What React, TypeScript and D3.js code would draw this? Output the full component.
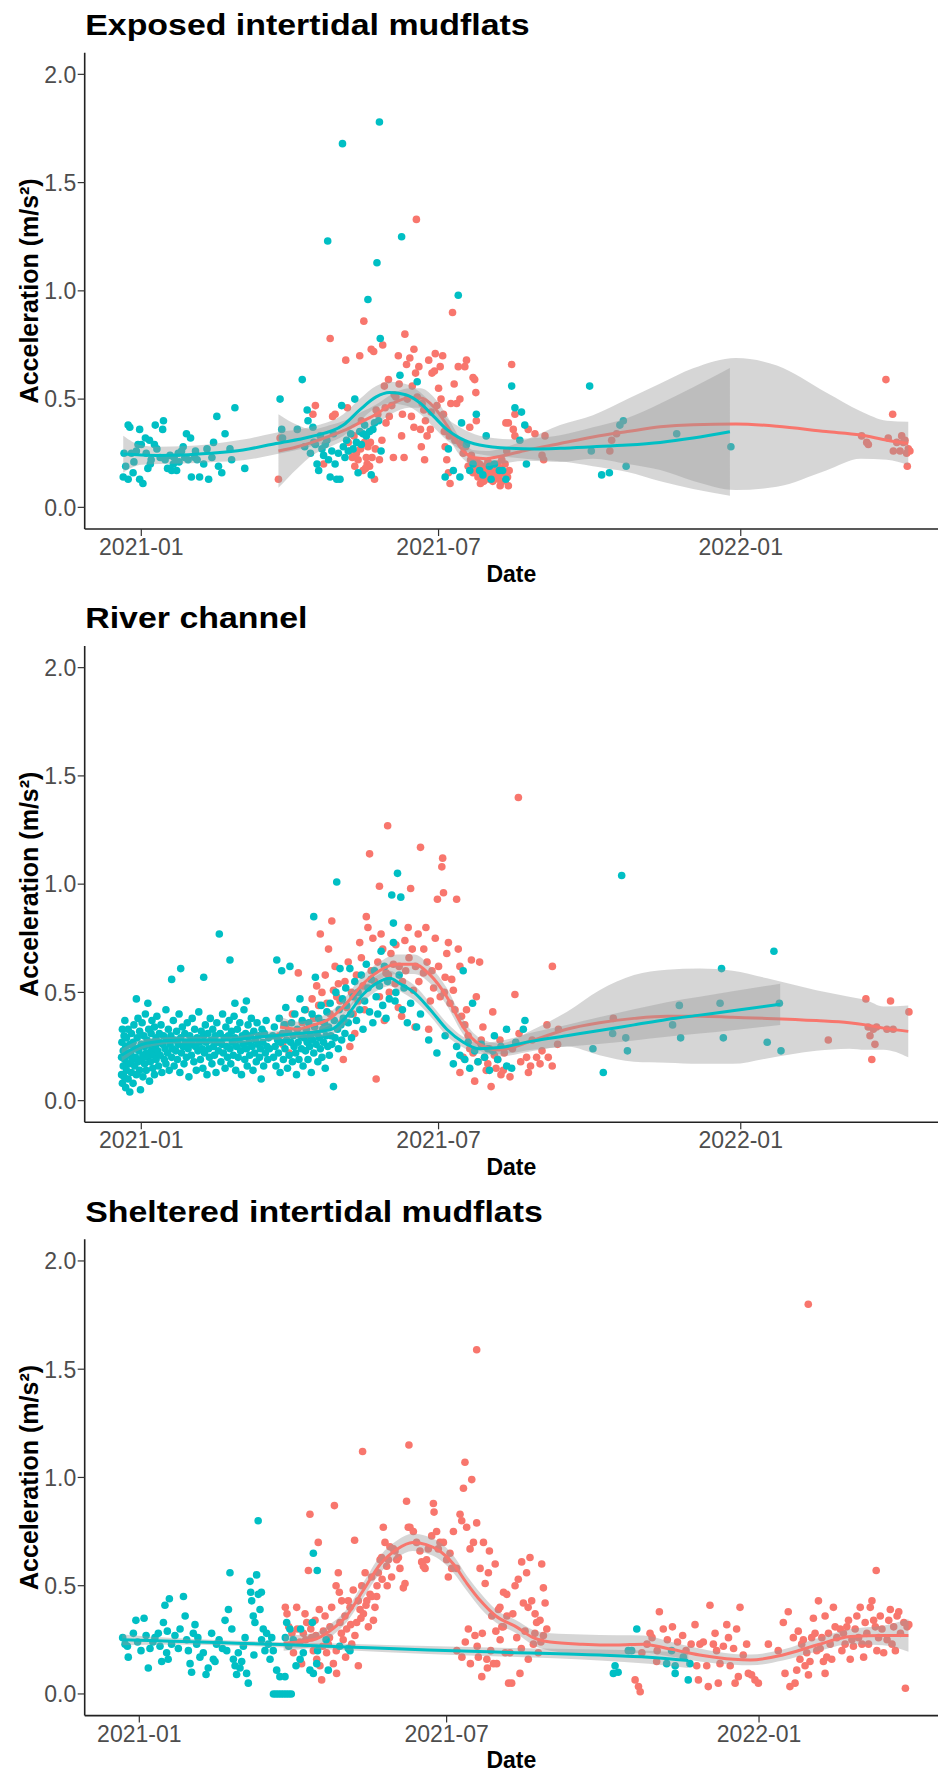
import React from "react";
import * as d3 from "d3";

type Pt = [number, number];
type Fit = [number, number, number];

// Day 0 = 2021-01-01; every point is [days since origin, acceleration in m/s²]
const ORIGIN = new Date(2021, 0, 1);
const atDay = (d: number) => new Date(ORIGIN.getTime() + d * 86400000);

// ---------- Exposed intertidal mudflats ----------
const exposedTeal: Pt[] = [
  [-11,0.14],[-9.5,0.19],[-10.5,0.25],[-8,0.38],[-7,0.37],[-8,0.13],[-6,0.25],[-4.5,0.21],[-3,0.26],[-1,0.36],
  [-1,0.13],[1,0.11],[0,0.29],[2.5,0.32],[4,0.18],[5,0.31],[5.5,0.2],[8,0.29],[8.5,0.38],[9.5,0.27],
  [11.5,0.23],[13.5,0.4],[13,0.36],[14.5,0.22],[16,0.18],[17.5,0.24],[18.5,0.17],[19.5,0.2],[21.5,0.17],[22.5,0.25],
  [24.5,0.26],[25.5,0.28],[26.5,0.23],[27.5,0.34],[30,0.32],[28.5,0.22],[30.5,0.14],[32.5,0.23],[34,0.22],[35.5,0.14],
  [38,0.2],[40,0.27],[41,0.13],[43,0.23],[44,0.3],[46,0.42],[47,0.19],[49,0.16],[51,0.34],[54,0.27],
  [55,0.22],[57,0.46],[63,0.18],[-2,0.29],[3,0.25],[-5,0.16],[6,0.22],[20,0.23],[23,0.21],[33,0.26],
  [84.5,0.5],[85.5,0.36],[86,0.32],[98,0.59],[101,0.45],[101.5,0.4],[99.5,0.28],[103,0.25],[104.5,0.37],[106,0.29],
  [107,0.2],[108,0.17],[110,0.27],[111,0.24],[113,0.31],[113.5,1.23],[115,0.14],[116,0.26],[117,0.34],[118,0.2],
  [119,0.13],[120,0.25],[121,0.13],[122,0.47],[122.5,1.68],[123,0.28],[125,0.31],[127.5,0.34],[129,0.27],[130,0.5],
  [132,0.16],[133,0.35],[135,0.34],[136,0.38],[138,0.96],[139,0.35],[141,0.36],[143.5,1.13],[144.5,0.4],[145,1.78],
  [145.5,0.78],[146,0.26],[157.5,0.61],[158.5,1.25],[168,0.58],[185,0.14],[187,0.27],[190,0.17],[193,0.98],[194,0.14],
  [195,0.39],[200,0.17],[204,0.43],[206,0.17],[210,0.33],[213,0.13],[218,0.17],[220,0.17],[222,0.13],[225.5,0.56],
  [227.5,0.46],[231.5,0.44],[233.5,0.38],[234.5,0.2],[230.5,0.31],[95,0.36],[105,0.3],[109,0.33],[112,0.29],[114,0.22],
  [124,0.23],[126,0.26],[131,0.3],[134,0.29],[137,0.33],[140,0.15],[142,0.39],[202,0.2],[208,0.15],[212,0.19],
  [215,0.2],[198,0.29],[273,0.56],[280.3,0.15],[285,0.16],[291.4,0.38],[293.5,0.4],[295.2,0.19],[326,0.34],[359,0.28],
  [274,0.26],
];

const exposedRed: Pt[] = [
  [83.5,0.13],[84.5,0.32],[106,0.47],[104.5,0.43],[111,0.2],[115,0.78],[116.5,0.42],[118,0.43],[124.5,0.68],[125.5,0.46],
  [127,0.26],[128.5,0.23],[130,0.19],[131,0.25],[132,0.22],[133,0.7],[134,0.4],[135,0.17],[135.5,0.86],[136,0.3],
  [137,0.23],[137.5,0.2],[138,0.28],[139,0.19],[140,0.73],[140.5,0.23],[141.5,0.72],[142,0.13],[143,0.45],[144,0.43],
  [147,0.75],[148,0.56],[148.5,0.46],[150.5,0.59],[152.5,0.47],[153.5,0.23],[155,0.51],[156.5,0.7],[158.5,0.33],[160,0.23],
  [160.5,0.8],[161.5,0.66],[163.5,0.69],[164.5,0.42],[166,0.37],[166,0.73],[167.5,1.33],[168,0.51],[169,0.65],[170,0.36],
  [170.5,0.28],[172,0.45],[172.5,0.22],[174,0.33],[175,0.68],[176,0.36],[177,0.62],[178.5,0.63],[179,0.71],[181,0.55],
  [182,0.65],[183.5,0.7],[184,0.43],[185,0.28],[186,0.22],[187,0.16],[188,0.11],[188.5,0.48],[189.5,0.9],[190.5,0.57],
  [191,0.31],[192,0.48],[193,0.65],[194,0.5],[196,0.25],[197,0.65],[198,0.68],[199,0.19],[200,0.37],[202,0.16],
  [203,0.59],[204,0.4],[205,0.14],[206.5,0.11],[208,0.16],[209,0.19],[210,0.14],[212,0.13],[214.5,0.16],[216.5,0.19],
  [217.5,0.13],[218.5,0.1],[222,0.39],[222.5,0.26],[223.5,0.1],[225.5,0.66],[226.5,0.36],[227.5,0.43],
  [203.5,0.18],[204.5,0.21],[205.5,0.17],[206,0.2],[207,0.14],[207.5,0.18],[208.5,0.12],[209.5,0.15],[210.5,0.18],[211,0.21],
  [211.5,0.16],[212.5,0.2],[213,0.15],[213.5,0.17],[214,0.12],[215,0.18],[215.5,0.14],[216,0.16],[217,0.2],[218,0.15],
  [219,0.18],[220,0.12],[221,0.16],[221.5,0.2],[219.5,0.22],[223,0.14],[224,0.17],[200.5,0.22],[201,0.24],[197.5,0.28],
  [195,0.3],[126,0.3],[129.5,0.33],[133.5,0.27],[136.5,0.18],[139.5,0.3],[142.5,0.27],[145,0.22],[146.5,0.31],[149,0.39],
  [151,0.42],[154,0.52],[157,0.57],[159,0.43],[162,0.5],[165,0.56],[167,0.62],[171,0.48],[173,0.4],[176.5,0.44],
  [180,0.47],[182.5,0.5],[184.5,0.35],[187.5,0.33],[202,0.6],[203.7,0.53],[223.5,0.39],[227.5,0.33],[235.6,0.36],[239.7,0.34],
  [245,0.22],[245.8,0.33],[244,0.24],[285.3,0.26],[286.4,0.31],[289.4,0.34],[438.6,0.33],[441.7,0.3],[442.7,0.29],[453.4,0.59],
  [457.5,0.43],[454.8,0.32],[457.9,0.26],[460,0.3],[462,0.26],[463,0.33],[464,0.3],[466,0.25],[467,0.27],[468,0.26],
  [466.4,0.19],[465,0.31],
];

// Smoothed trends: [days, fitted value, half-width of the confidence band]
const exposedTealFit: Fit[] = [
  [-11,0.246,0.085],[0,0.242,0.045],[11,0.24,0.04],[25,0.242,0.04],[42,0.25,0.042],[62,0.265,0.048],[82,0.295,0.05],
  [103,0.326,0.045],[123,0.38,0.05],[133,0.45,0.05],[143,0.51,0.05],[151,0.53,0.05],[161,0.52,0.05],[170,0.48,0.05],
  [178,0.42,0.05],[186,0.36,0.05],[194,0.32,0.05],[206,0.288,0.043],[224.5,0.273,0.042],[240,0.27,0.05],[255,0.273,0.06],
  [275,0.28,0.09],[296,0.288,0.125],[316,0.3,0.18],[336,0.32,0.235],[358.4,0.349,0.295],
];
const exposedRedFit: Fit[] = [
  [83.5,0.26,0.17],[95,0.28,0.1],[104,0.3,0.06],[115,0.33,0.05],[125,0.36,0.045],[134,0.395,0.045],[143,0.43,0.045],
  [153,0.48,0.045],[163,0.505,0.045],[170,0.505,0.045],[178,0.465,0.045],[186,0.38,0.045],[194,0.28,0.04],[202,0.23,0.035],
  [210,0.225,0.035],[218,0.235,0.035],[235,0.265,0.05],[255,0.295,0.085],[275,0.325,0.1],[296,0.35,0.15],[316,0.372,0.2],
  [336,0.382,0.26],[362,0.385,0.305],[387,0.375,0.28],[417,0.35,0.18],[438,0.334,0.11],[454,0.31,0.09],[467,0.295,0.1],
];

// ---------- River channel ----------
const riverTeal: Pt[] = [
  [-12,0.12],[-12,0.2],[-11.8,0.27],[-11.5,0.08],[-11.5,0.33],[-11,0.16],[-11,0.23],[-10.5,0.3],[-10.5,0.11],[-10,0.19],
  [-10,0.37],[-9.5,0.25],[-9.5,0.06],[-9,0.14],[-9,0.29],[-8.5,0.21],[-8,0.33],[-8,0.1],[-7.5,0.17],[-7,0.26],
  [-7,0.04],[-6.5,0.22],[-6,0.31],[-6,0.13],[-5.5,0.19],[-5,0.27],[-5,0.08],[-4.5,0.35],[-4,0.16],[-4,0.24],
  [-3.5,0.2],[-3,0.47],[-3,0.12],[-2.5,0.29],[-2,0.18],[-2,0.38],[-1.5,0.23],[-1,0.14],[-1,0.32],[-0.5,0.05],
  [0,0.26],[0,0.19],[0.5,0.36],[1,0.21],[1,0.11],[1.5,0.3],[2,0.17],[2,0.25],[2.5,0.4],[3,0.22],
  [3,0.14],[3.5,0.28],[4,0.45],[4,0.2],[4.5,0.33],[5,0.09],[5,0.26],[5.5,0.18],[6,0.31],[6,0.23],
  [6.5,0.37],[7,0.15],[7,0.27],[7.5,0.21],[8,0.34],[8,0.12],[8.5,0.25],[9,0.29],[9,0.19],[9.5,0.39],
  [10,0.23],[10.5,0.16],[11,0.31],[11,0.27],[11.5,0.21],[12,0.35],[12.5,0.13],[13,0.26],[13.5,0.3],[14,0.19],
  [14.5,0.24],[15,0.42],[15,0.17],[15.5,0.28],[16,0.22],[16.5,0.33],[17,0.14],[17.5,0.26],[18,0.3],[18.5,0.56],
  [18.5,0.2],[19,0.24],[19.5,0.37],[20,0.16],[20.5,0.28],[21,0.23],[21.5,0.32],[22,0.19],[22.5,0.26],[23,0.4],
  [23.5,0.13],[24,0.61],[24,0.29],[24.5,0.22],[25,0.34],[25.5,0.25],[26,0.17],[26.5,0.31],[27,0.27],[27.5,0.2],
  [28,0.36],[28.5,0.24],[29,0.11],[29.5,0.3],[30,0.26],[30.5,0.21],[31,0.38],[31.5,0.28],[32,0.18],[32.5,0.33],
  [33,0.25],[33.5,0.14],[34,0.29],[34.5,0.23],[35,0.41],[35.5,0.27],[36,0.19],[36.5,0.32],[37,0.24],[37.5,0.15],
  [38,0.57],[38,0.3],[38.5,0.22],[39,0.35],[39.5,0.27],[40,0.12],[40.5,0.31],[41,0.24],[41.5,0.2],[42,0.38],
  [42.5,0.28],[43,0.17],[43.5,0.33],[44,0.25],[44.5,0.21],[45,0.3],[45.5,0.13],[46,0.36],[46.5,0.27],[47,0.23],
  [47.5,0.77],[48,0.31],[48.5,0.18],[49,0.26],[49.5,0.4],[50,0.22],[50.5,0.29],[51,0.15],[51.5,0.34],[52,0.25],
  [52.5,0.2],[53,0.3],[53.5,0.37],[54,0.65],[54,0.24],[54.5,0.17],[55,0.32],[55.5,0.27],[56,0.21],[56.5,0.39],
  [57,0.45],[57,0.29],[57.5,0.14],[58,0.25],[58.5,0.33],[59,0.2],[59.5,0.28],[60,0.36],[60.5,0.23],[61,0.12],
  [61.5,0.3],[62,0.26],[62.5,0.42],[63,0.19],[63.5,0.31],[64,0.46],[64,0.24],[64.5,0.16],[65,0.35],[65.5,0.27],
  [66,0.21],[66.5,0.3],[67,0.38],[67.5,0.25],[68,0.14],[68.5,0.32],[69,0.22],[69.5,0.28],[70,0.18],[70.5,0.36],
  [71,0.26],[71.5,0.3],[72,0.2],[72.5,0.24],[73,0.1],[73.5,0.33],[74,0.27],[74.5,0.16],[75,0.31],[75.5,0.22],
  [76,0.37],[76.5,0.25],[77,0.19],[77.5,0.29],[78,0.24],
  [80,0.3],[80.5,0.2],[81,0.34],[81.5,0.25],[82,0.16],[82.5,0.65],[83,0.28],[83.5,0.22],[84,0.38],[84.5,0.13],
  [85,0.27],[85.5,0.6],[86,0.31],[86.5,0.19],[87,0.35],[87.5,0.24],[88,0.43],[88.5,0.28],[89,0.15],[89.5,0.32],
  [90,0.21],[90.5,0.62],[91,0.27],[91.5,0.36],[92,0.18],[92.5,0.3],[93,0.25],[93.5,0.4],[94,0.22],[94.5,0.12],
  [95,0.33],[95.5,0.27],[96,0.19],[96.6,0.47],[97,0.3],[97.5,0.24],[98,0.37],[98.5,0.16],[99,0.29],[99.5,0.42],
  [100,0.23],[100.5,0.33],[101,0.27],[101.5,0.19],[102,0.36],[102.5,0.25],[103,0.3],[103.5,0.13],[104,0.4],[104.5,0.28],
  [105,0.85],[105,0.22],[105.5,0.34],[106,0.57],[106.5,0.26],[107,0.31],[107.5,0.18],[108,0.38],[108.5,0.29],[109,0.24],
  [109.5,0.44],[110,0.2],[110.5,0.33],[111,0.27],[111.5,0.36],[112,0.15],[112.5,0.3],[113,0.41],[113.5,0.25],[114,0.34],
  [114.5,0.21],[115,0.45],[115.5,0.3],[116,0.26],[117,0.065],[117.5,0.37],[118,0.29],[118.5,0.5],[119,1.01],[119.5,0.33],
  [120,0.24],[120.5,0.42],[121,0.61],[121.5,0.35],[122,0.28],[122.5,0.47],[123,0.38],[124,0.31],[124.5,0.52],[125,0.44],
  [126,0.36],[127,0.61],[127.5,0.4],[128,0.29],[129,0.48],[130,0.55],[131,0.37],[132,0.5],[133,0.42],[134,0.58],
  [135,0.33],[136,0.46],[137,0.63],[138,0.52],[139,0.41],[140,0.56],[141,0.36],[142,0.6],[143,0.48],[144,0.4],
  [145,0.53],[146,0.69],[147,0.44],[148,0.62],[149,0.38],[150,0.55],[151,0.47],[152.5,0.95],[153.5,0.73],[153.5,0.82],
  [154.5,0.46],[155,0.5],[156,1.05],[157,0.58],[158,0.94],[159,0.42],[160,0.52],[162,0.36],[164,0.45],[167.6,0.34],
  [170,0.4],[175,0.28],[180,0.22],[185,0.3],[190,0.17],[192,0.25],[194,0.21],[196,0.6],[197,0.19],[199,0.27],
  [200,0.15],[201.7,0.45],[203,0.23],[205,0.18],[207,0.26],[209,0.2],[211,0.24],[212,0.14],[214,0.23],[215,0.3],
  [217,0.19],[219,0.25],[222.4,0.33],[222.5,0.16],[225.5,0.15],[228,0.27],[232.6,0.33],[233.6,0.37],
  [275,0.24],[281.3,0.13],[287,0.31],[292.5,1.04],[295,0.29],[296,0.23],[323.5,0.35],[327.6,0.44],[328.4,0.29],[352.4,0.45],
  [353.3,0.61],[354.4,0.29],[381.1,0.27],[385.2,0.69],[388.5,0.45],[389.5,0.23],
];

const riverRed: Pt[] = [
  [84,0.3],[86,0.26],[88,0.35],[90,0.22],[92,0.4],
  [95.6,0.59],[106.8,0.53],[109,0.77],[114,0.7],[116,0.83],[117,0.51],[119,0.48],[120,0.54],[123,0.19],[127,0.25],
  [130,0.31],[133,0.73],[137,0.85],[138,0.8],[139,1.14],[141,0.75],[143,0.1],[145,0.48],[145,0.99],[146,0.77],
  [148,0.37],[149,0.59],[150,1.27],[151,0.5],[153.5,0.63],[156.5,0.43],[158.5,0.39],[160.5,0.74],[162.5,0.8],[164,0.98],
  [165.7,0.51],[166.7,0.34],[168.6,0.77],[170,1.17],[171.8,0.59],[173.3,0.8],[175,0.33],[176,0.46],[179,0.75],[180.3,0.93],
  [182,0.48],[183,1.08],[183.5,1.12],[184,0.96],[185,0.57],[186,0.68],[187,0.73],[188,0.45],[190,0.51],[192,0.93],
  [193,0.7],[194,0.62],[195,0.39],[196,0.2],[198,0.42],[201,0.65],[204,0.48],[206,0.64],[208,0.34],[210,0.14],
  [213,0.065],[214,0.41],[203,0.09],[194,0.13],
  [98,0.36],[100,0.42],[102,0.3],[104,0.47],[105,0.38],[108,0.44],[110,0.5],[111,0.36],[112,0.58],[113,0.45],
  [115,0.4],[118,0.62],[121,0.46],[122,0.36],[124,0.55],[125,0.43],[126,0.64],[128,0.5],[129,0.4],[131,0.58],
  [132,0.46],[134,0.66],[135,0.53],[136,0.42],[140,0.6],[142,0.55],[144,0.64],[147,0.7],[150.5,0.58],[152,0.68],
  [154.5,0.54],[155,0.72],[157,0.62],[159,0.55],[161,0.6],[163,0.66],[165,0.7],[167,0.62],[169,0.55],[172,0.7],
  [174,0.64],[177,0.6],[178,0.52],[181,0.62],[184.5,0.5],[189,0.56],[191,0.42],[197,0.35],[199,0.3],[200,0.24],
  [202,0.22],[205,0.18],[207,0.28],[209,0.2],[211,0.17],[212,0.24],[215,0.21],[216,0.15],[217,0.19],[219,0.12],
  [221,0.22],[229.6,1.4],[250.3,0.62],[227.5,0.49],[218.4,0.28],[220.4,0.14],[224.5,0.11],[235.7,0.13],[234.6,0.2],[240.7,0.2],
  [242.8,0.17],[247.8,0.2],[250.2,0.16],[247,0.35],[254,0.33],[253.5,0.26],[226,0.24],[231,0.18],[238,0.28],[244,0.23],
  [230,0.31],[237,0.16],[287.4,0.38],[418.3,0.28],[441.2,0.47],[456.2,0.46],[467.4,0.41],[444.8,0.19],[443.7,0.3],[446.7,0.26],
  [447.7,0.34],[454,0.33],[457.8,0.33],[442.6,0.34],[445.7,0.33],
];

const riverTealFit: Fit[] = [
  [-12,0.21,0.03],[3,0.265,0.02],[24,0.28,0.015],[54,0.28,0.015],[74,0.296,0.02],[95,0.31,0.022],[115,0.327,0.025],
  [125,0.39,0.03],[135,0.49,0.035],[145,0.55,0.035],[151.5,0.565,0.035],[157.5,0.54,0.035],[166,0.5,0.035],[176,0.42,0.03],
  [186,0.33,0.03],[196,0.27,0.025],[206,0.24,0.025],[218,0.245,0.03],[238,0.275,0.04],[259,0.3,0.05],[280,0.325,0.062],
  [300,0.35,0.072],[320,0.375,0.08],[340,0.395,0.085],[360,0.415,0.09],[389,0.445,0.095],
];
const riverRedFit: Fit[] = [
  [84.5,0.34,0.05],[95,0.33,0.035],[105,0.35,0.03],[115,0.38,0.03],[125,0.45,0.035],[135,0.54,0.04],[145,0.6,0.04],
  [155.5,0.63,0.045],[166,0.63,0.045],[176,0.58,0.04],[186,0.48,0.04],[196,0.34,0.035],[206,0.26,0.03],[218,0.234,0.03],
  [239,0.28,0.05],[259,0.33,0.08],[279,0.36,0.15],[300,0.38,0.2],[320,0.39,0.215],[340,0.39,0.22],[360,0.385,0.215],
  [381,0.38,0.185],[411,0.37,0.14],[431,0.36,0.12],[441,0.35,0.115],[452,0.335,0.1],[467,0.32,0.12],
];

// ---------- Sheltered intertidal mudflats ----------
const shelteredTeal: Pt[] = [
  [-9.8,0.26],[-8.4,0.23],[-6.5,0.17],[-3.5,0.28],[-2,0.34],[2.8,0.35],[5.3,0.12],[6.3,0.21],[9.2,0.26],[11.2,0.28],
  [12.2,0.22],[13.2,0.15],[14.2,0.33],[15.1,0.41],[16.1,0.19],[16.5,0.29],[17,0.16],[17.7,0.44],[19,0.23],[24,0.3],
  [26,0.45],[27,0.36],[27.9,0.25],[28.9,0.2],[29.9,0.14],[30.8,0.1],[31.8,0.28],[32.8,0.32],[33.8,0.23],[35.7,0.17],
  [37.7,0.19],[39.3,0.09],[40.6,0.12],[42.6,0.28],[43.6,0.16],[44.6,0.15],[45.5,0.23],[50.5,0.34],[51.5,0.2],[52.5,0.39],
  [53.4,0.56],[54.5,0.3],[55.4,0.16],[56.4,0.13],[57.3,0.09],[58.3,0.19],[59.3,0.12],[60.3,0.15],[61.3,0.22],[62.3,0.26],
  [63.2,0.095],[64.2,0.05],[65.2,0.52],[65.6,0.47],[66.2,0.43],[67.1,0.36],[67.5,0.18],[68.1,0.33],[69.1,0.55],[70.1,0.46],
  [71.1,0.39],[70,0.8],[71.9,0.47],[72,0.25],[73,0.3],[74,0.2],[75,0.28],[76,0.23],[77,0.16],[78,0.26],
  [78.9,0.2],[80.9,0.11],[82.8,0.08],[85.8,0.08],[86.8,0.33],[88.7,0.3],[90.7,0.25],[92.3,0.13],[94.7,0.16],[96.6,0.19],
  [100.5,0.11],[102.5,0.095],[102.5,0.65],[104.8,0.57],[101.9,0.33],[104.5,0.14],[111.3,0.11],[123.1,0.21],[124.1,0.2],
  [-7,0.22],[-1,0.24],[1,0.2],[4,0.27],[8,0.24],[21,0.27],[23,0.21],[34.5,0.26],[47,0.25],[49,0.21],
  [86,0.26],[88,0.22],[95,0.3],[105,0.2],[110,0.25],[118,0.22],
  [79,0],[80.5,0],[82,0],[83.5,0],[85,0],[86.5,0],[88,0],[89.5,0],
  [293,0.3],[280.2,0.13],[279.2,0.095],[282,0.1],[288,0.2],[290,0.2],[310.6,0.14],[315.6,0.13],[315.6,0.095],[323.3,0.065],
  [324.3,0.14],[320.4,0.17],[313.5,0.2],
];

const shelteredRed: Pt[] = [
  [86,0.4],[87,0.37],[88,0.31],[89.9,0.28],[90.8,0.19],[92.7,0.4],[93,0.3],[94.6,0.24],[95.6,0.14],[96.6,0.28],
  [97.6,0.37],[98.6,0.33],[99.6,0.57],[100.5,0.83],[101.5,0.26],[102.5,0.2],[103.5,0.34],[104.5,0.16],[105.4,0.7],[106,0.39],
  [106.4,0.13],[107.4,0.065],[108.4,0.29],[109.4,0.36],[110.3,0.19],[111.3,0.23],[112.3,0.31],[113.3,0.4],[114.3,0.14],[114.9,0.87],
  [115.9,0.5],[116.2,0.095],[117.2,0.56],[117.8,0.47],[118.2,0.33],[119.2,0.43],[120.1,0.25],[121.1,0.36],[122.1,0.3],[123.1,0.43],
  [124.1,0.4],[125.1,0.23],[126,0.48],[126.8,0.71],[128,0.33],[129,0.13],[129,0.43],[130,0.39],[131,0.5],[131.5,1.12],
  [132,0.37],[133,0.56],[134,0.43],[134.9,0.31],[135.9,0.46],[136.9,0.54],[137.9,0.34],[138.8,0.4],[139.8,0.45],[140.8,0.56],
  [141.8,0.62],[142.7,0.63],[143.7,0.77],[144.7,0.7],[145.7,0.59],[146.7,0.62],[147.6,0.68],[148.6,0.54],[149.6,0.67],[150.6,0.66],
  [151.6,0.62],[152.6,0.63],[153.5,0.58],[155.5,0.49],[156.5,0.51],[157.4,0.89],[158.4,0.77],[158.8,1.15],[159.4,0.77],[161.4,0.75],
  [163.3,0.7],[165.3,0.66],[166.3,0.61],[167.3,0.59],[168.3,0.58],[169.2,0.62],[170.2,0.67],[172.2,0.73],[173.2,0.88],[173.6,0.84],
  [175.1,0.75],[176.1,0.67],[177.1,0.7],[179.1,0.7],[181,0.62],[182,0.54],[183,0.65],[184,0.58],[185,0.75],[186.9,0.58],
  [188.9,0.83],[189.9,0.8],[190.9,0.95],[191.8,1.07],[192.8,0.77],[193.8,0.3],[194.8,0.67],[195.8,0.99],[196.8,0.7],[197.7,0.27],
  [198.7,0.79],[199.7,0.17],[200.7,0.58],[201.7,0.08],[202.7,0.7],[203.7,0.51],[204.7,0.16],[205.6,0.56],[206.2,0.66],[207.6,0.36],
  [208.6,0.14],[209.6,0.6],[210.5,0.14],[211.5,0.39],[212.5,0.25],[213.5,0.31],[214.5,0.47],[215.5,0.19],[216.5,0.36],[217.5,0.05],
  [198.7,1.59],[98,0.25],[101,0.3],[104,0.27],[108,0.22],[112,0.26],[116,0.2],[119,0.28],[121.5,0.17],[124.5,0.32],
  [127,0.27],[130.5,0.35],[133.5,0.41],[137,0.45],[140,0.5],[143,0.53],[146,0.5],[187,0.2],[190,0.17],[192,0.24],
  [195,0.14],[199,0.22],[202,0.28],[205,0.12],[207,0.2],[210,0.29],[212.4,0.4],[214.4,0.31],[216.4,0.46],[218.3,0.19],
  [219.3,0.05],[221.3,0.5],[222.3,0.26],[223.2,0.53],[224.2,0.095],[225.2,0.61],[226.2,0.42],[227.2,0.29],[228.1,0.56],[229.1,0.16],
  [230.1,0.63],[231.1,0.43],[232.1,0.23],[233.1,0.37],[234,0.33],[235,0.19],[236,0.34],[237,0.6],[238,0.49],[239,0.42],
  [238,0.27],[229,0.4],[220,0.37],[225,0.21],[233,0.28],[236.5,0.24],[240,0.3],
  [306.3,0.38],[300.8,0.28],[299,0.23],[296,0.19],[292,0.065],[294,0.034],[295,0.01],[304.7,0.15],[308.6,0.3],[314,0.31],
  [317,0.24],[302,0.26],[305,0.2],[311,0.25],[320,0.27],[322,0.2],[325,0.23],
  [327.3,0.32],[328.3,0.13],[329.3,0.065],[330.2,0.23],[332.2,0.24],[334.2,0.13],[335.1,0.034],[336.1,0.41],[338.1,0.23],[339.1,0.28],
  [340,0.2],[341,0.05],[342,0.14],[344,0.22],[346,0.32],[347,0.26],[348,0.13],[350,0.21],[350.9,0.05],[351.8,0.3],
  [352.8,0.08],[353.8,0.4],[355.7,0.18],[357.7,0.23],[358.7,0.095],[360.6,0.088],[362.6,0.065],[364.6,0.05],[370.5,0.23],[376.3,0.2],
  [379.3,0.33],[380.3,0.095],[382.2,0.38],[383.2,0.034],[385.2,0.26],[386.2,0.05],[387.2,0.11],[388.1,0.29],[389.1,0.16],[390.1,0.23],
  [391.1,0.25],[392.1,0.13],[393.1,0.19],[394.1,0.088],[395,0.15],[396,0.26],[397,0.35],[398,0.28],[399,0.2],[400,0.43],
  [401,0.21],[402,0.26],[402.9,0.15],[403.9,0.095],[403.9,0.36],[404.9,0.17],[405.9,0.28],[406.9,0.23],[407.8,0.16],[408.8,0.4],
  [409.8,0.31],[410.8,0.26],[412.8,0.3],[413.8,0.2],[414.7,0.28],[415.7,0.23],[416.7,0.31],[417.7,0.34],[418.7,0.16],[419.7,0.25],
  [420.6,0.22],[421.6,0.3],[422.6,0.36],[423.6,0.26],[424.6,0.4],[425.6,0.23],[426.6,0.17],[427.5,0.33],[428.5,0.28],[429.5,0.23],
  [430.5,0.4],[431.5,0.43],[432.5,0.34],[433.5,0.31],[434,0.57],[434.4,0.2],[435.4,0.26],[436.4,0.36],[437.4,0.3],[438.4,0.19],
  [440.4,0.25],[441.4,0.34],[442.3,0.39],[443.3,0.23],[444.3,0.31],[445.3,0.2],[446.3,0.36],[447.3,0.38],[448.3,0.28],[450.3,0.33],
  [451.2,0.026],[452.2,0.31],[453.2,0.32],[394,1.8],
];

const shelteredTealFit: Fit[] = [
  [-10,0.25,0.025],[20,0.243,0.015],[50,0.236,0.012],[83,0.228,0.012],[122,0.217,0.015],[170,0.203,0.018],
  [218,0.192,0.02],[271,0.18,0.025],[300,0.17,0.03],[323.3,0.155,0.035],
];
const shelteredRedFit: Fit[] = [
  [85,0.234,0.035],[102.5,0.25,0.03],[112,0.29,0.03],[122,0.36,0.03],[132,0.48,0.035],[142,0.6,0.04],[152,0.67,0.04],
  [161,0.7,0.04],[169,0.69,0.04],[177,0.66,0.04],[185,0.6,0.04],[193,0.51,0.035],[201,0.43,0.035],[210,0.36,0.03],
  [222,0.31,0.03],[232,0.26,0.035],[242,0.24,0.04],[261,0.23,0.045],[281,0.226,0.045],[297,0.23,0.04],[311,0.21,0.035],
  [330,0.18,0.03],[350,0.16,0.025],[360,0.157,0.025],[379,0.18,0.025],[399,0.226,0.03],[419,0.265,0.035],[438,0.27,0.045],
  [453,0.27,0.075],
];

const xTickDates = [new Date(2021, 0, 1), new Date(2021, 6, 1), new Date(2022, 0, 1)];
const yTickValues = [0, 0.5, 1.0, 1.5, 2.0];

const panels = [
  { title: "Exposed intertidal mudflats", days: [-34.46, 485.1], red: exposedRed, teal: exposedTeal, redFit: exposedRedFit, tealFit: exposedTealFit },
  { title: "River channel", days: [-34.46, 485.1], red: riverRed, teal: riverTeal, redFit: riverRedFit, tealFit: riverTealFit },
  { title: "Sheltered intertidal mudflats", days: [-32.16, 470.4], red: shelteredRed, teal: shelteredTeal, redFit: shelteredRedFit, tealFit: shelteredTealFit },
];

// ---------- layout ----------
const W = 938;
const H = 1774;
const LEFT = 84.7;
const RIGHT = 938;
const TOP0 = 52.7;
const PANEL_H = 476.3;
const STEP = 593.3;
const TITLE_SX = 1.13; // title glyphs are drawn slightly wide
const RED = "#F8766D";
const TEAL = "#00BFC4";
const FONT = "'Liberation Sans', Arial, Helvetica, sans-serif";

function Panel({ p, index }: { p: any; index: number }) {
  const top = TOP0 + index * STEP;
  const bottom = top + PANEL_H;
  const x = d3.scaleTime().domain([atDay(p.days[0]), atDay(p.days[1])]).range([LEFT, RIGHT]);
  const y = d3.scaleLinear().domain([-0.1, 2.1]).range([bottom, top]);
  const fmt = d3.timeFormat("%Y-%m");

  const line = d3.line<Fit>().x((d) => x(atDay(d[0]))).y((d) => y(d[1])).curve(d3.curveMonotoneX);
  const band = d3
    .area<Fit>()
    .x((d) => x(atDay(d[0])))
    .y0((d) => y(d[1] - d[2]))
    .y1((d) => y(d[1] + d[2]))
    .curve(d3.curveMonotoneX);

  const clipId = `clip-${index}`;
  const cy = (top + bottom) / 2;

  return (
    <g>
      <defs>
        <clipPath id={clipId}>
          <rect x={LEFT} y={top} width={RIGHT - LEFT} height={PANEL_H} />
        </clipPath>
      </defs>

      <g transform={`translate(${LEFT + 0.5},${top - 17.7}) scale(${TITLE_SX},1)`}>
        <text fontFamily={FONT} fontWeight="bold" fontSize={30} fill="#000">{p.title}</text>
      </g>

      <g clipPath={`url(#${clipId})`}>
        {p.red.map((d: Pt, i: number) => (
          <circle key={`r${i}`} cx={x(atDay(d[0]))} cy={y(d[1])} r={3.8} fill={RED} />
        ))}
        {p.teal.map((d: Pt, i: number) => (
          <circle key={`t${i}`} cx={x(atDay(d[0]))} cy={y(d[1])} r={3.8} fill={TEAL} />
        ))}
        <path d={band(p.redFit) || ""} fill="#999999" fillOpacity={0.4} />
        <path d={line(p.redFit) || ""} fill="none" stroke={RED} strokeWidth={3} />
        <path d={band(p.tealFit) || ""} fill="#999999" fillOpacity={0.4} />
        <path d={line(p.tealFit) || ""} fill="none" stroke={TEAL} strokeWidth={3} />
      </g>

      <line x1={LEFT} x2={LEFT} y1={top} y2={bottom} stroke="#222" strokeWidth={1.6} />
      <line x1={LEFT} x2={RIGHT} y1={bottom} y2={bottom} stroke="#222" strokeWidth={1.6} />

      {yTickValues.map((v) => (
        <g key={`y${v}`}>
          <line x1={LEFT - 7} x2={LEFT} y1={y(v)} y2={y(v)} stroke="#333" strokeWidth={1.2} />
          <text
            x={LEFT - 8.5}
            y={y(v) + 8.3}
            textAnchor="end"
            fontFamily={FONT}
            fontSize={23}
            fill="#4D4D4D"
          >
            {v.toFixed(1)}
          </text>
        </g>
      ))}

      {xTickDates.map((t, i) => (
        <g key={`x${i}`}>
          <line x1={x(t)} x2={x(t)} y1={bottom} y2={bottom + 7} stroke="#333" strokeWidth={1.2} />
          <text x={x(t)} y={bottom + 26} textAnchor="middle" fontFamily={FONT} fontSize={23} fill="#4D4D4D">
            {fmt(t)}
          </text>
        </g>
      ))}

      <text
        x={(LEFT + RIGHT) / 2}
        y={bottom + 52.5}
        textAnchor="middle"
        fontFamily={FONT}
        fontWeight="bold"
        fontSize={23}
        fill="#000"
      >
        Date
      </text>

      <g transform={`translate(37.5,${cy}) rotate(-90)`}>
        <text textAnchor="middle" fontFamily={FONT} fontWeight="bold" fontSize={25} fill="#000">
          Acceleration (m/s²)
        </text>
      </g>
    </g>
  );
}

export default function App() {
  return (
    <svg
      width={W}
      height={H}
      viewBox={`0 0 ${W} ${H}`}
      style={{ position: "absolute", left: 0, top: 0, background: "#fff", display: "block" }}
    >
      <rect width={W} height={H} fill="#fff" />
      {panels.map((p, i) => (
        <Panel key={p.title} p={p} index={i} />
      ))}
    </svg>
  );
}
